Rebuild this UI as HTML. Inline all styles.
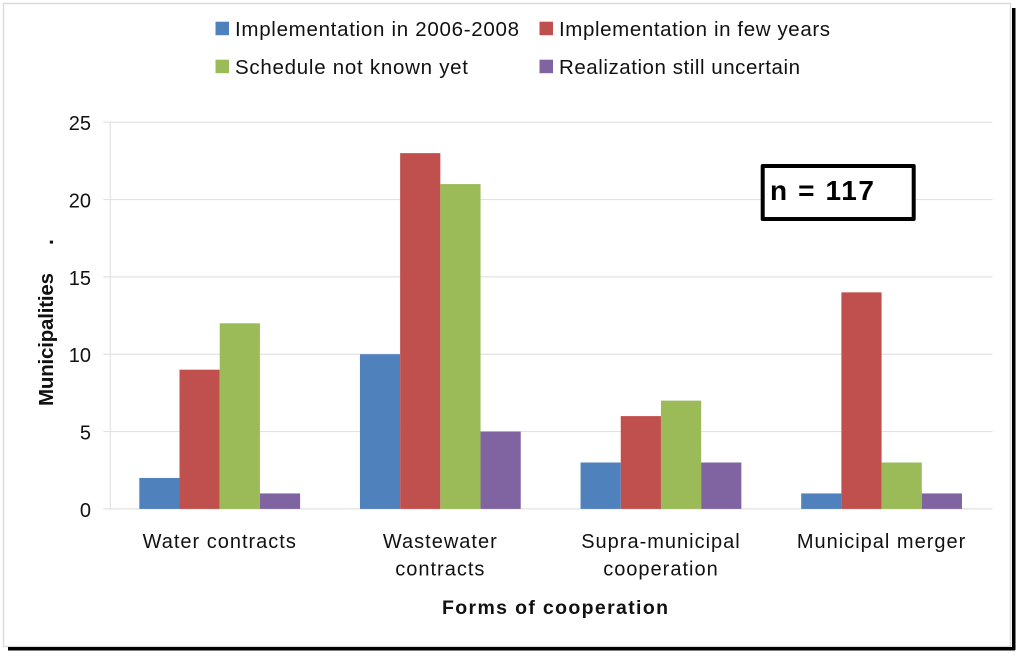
<!DOCTYPE html>
<html>
<head>
<meta charset="utf-8">
<style>
html,body{margin:0;padding:0;background:#fff;width:1024px;height:659px;overflow:hidden}
svg{display:block;font-family:"Liberation Sans",sans-serif;filter:blur(0.35px)}
text{fill:#111}
</style>
</head>
<body>
<svg id="chart" width="1024" height="659" viewBox="0 0 1024 659" xmlns="http://www.w3.org/2000/svg">
  <rect x="3.5" y="3.5" width="1007" height="643" fill="#fff" stroke="#dcdcdc" stroke-width="1.5"/>
  <rect x="1012" y="8" width="3.5" height="642" fill="#000"/>
  <rect x="8" y="647" width="1007" height="3.5" fill="#000"/>
  <g id="grid"></g>
  <g id="ticks"></g>
  <g id="bars"></g>
  <g id="cats"></g>

  <g>
    <rect x="215.5" y="21.7" width="13.5" height="13.5" fill="#4f81bd"/>
    <text x="235" y="36" font-size="20.5" textLength="284" lengthAdjust="spacing">Implementation in 2006-2008</text>
    <rect x="539.5" y="21.7" width="13.5" height="13.5" fill="#c0504d"/>
    <text x="559" y="36" font-size="20.5" textLength="271" lengthAdjust="spacing">Implementation in few years</text>
    <rect x="215.5" y="59.7" width="13.5" height="13.5" fill="#9bbb59"/>
    <text x="235" y="74" font-size="20.5" textLength="233" lengthAdjust="spacing">Schedule not known yet</text>
    <rect x="539.5" y="59.7" width="13.5" height="13.5" fill="#8064a2"/>
    <text x="559" y="74" font-size="20.5" textLength="241" lengthAdjust="spacing">Realization still uncertain</text>
  </g>

  <text transform="translate(53,406) rotate(-90)" font-size="20.5" font-weight="bold" textLength="133" lengthAdjust="spacing">Municipalities</text>
  <text transform="translate(53,245) rotate(-90)" font-size="21" font-weight="bold">.</text>
  <text x="442" y="614" font-size="19.5" font-weight="bold" textLength="226" lengthAdjust="spacing">Forms of cooperation</text>

  <g>
    <rect x="762.7" y="166" width="151" height="53" fill="#fff" stroke="#000" stroke-width="4" stroke-linejoin="round"/>
    <text x="770" y="200" font-size="28" font-weight="bold" textLength="104" lengthAdjust="spacing" style="fill:#000">n = 117</text>
  </g>
</svg>
<script>
const categories = [["Water contracts"], ["Wastewater", "contracts"], ["Supra-municipal", "cooperation"], ["Municipal merger"]];
const seriesNames = ["Implementation in 2006-2008", "Implementation in few years", "Schedule not known yet", "Realization still uncertain"];
const implementation2006 = [2, 10, 3, 1];
const implementationFewYears = [9, 23, 6, 14];
const scheduleNotKnown = [12, 21, 7, 3];
const realizationUncertain = [1, 5, 3, 1];
const tickValues = [0, 5, 10, 15, 20, 25];

const seriesValues = [implementation2006, implementationFewYears, scheduleNotKnown, realizationUncertain];
const seriesColors = ["#4f81bd", "#c0504d", "#9bbb59", "#8064a2"];
const NS = "http://www.w3.org/2000/svg";
const axisX = 110.3, gridRight = 992.5;
const plotLeft = 109.4, plotRight = 991.9, plotBottom = 508.9, plotTop = 122.2;
const yMax = tickValues[tickValues.length - 1];
const yScale = v => plotBottom - (v / yMax) * (plotBottom - plotTop);
const bandWidth = (plotRight - plotLeft) / categories.length;
const barWidth = 40.2;
const xBand = i => plotLeft + i * bandWidth;
const xBar = (i, s) => xBand(i) + (bandWidth - barWidth * seriesValues.length) / 2 + s * barWidth;

const gridG = document.getElementById("grid");
const ticksG = document.getElementById("ticks");
tickValues.forEach(t => {
  const line = document.createElementNS(NS, "line");
  
  
  line.setAttribute("x1", axisX - 7);
  line.setAttribute("x2", gridRight);
  line.setAttribute("y1", yScale(t));
  line.setAttribute("y2", yScale(t));
  line.setAttribute("stroke", "#e2e2e2");
  line.setAttribute("stroke-width", "1.2");
  gridG.appendChild(line);
  const label = document.createElementNS(NS, "text");
  
  
  label.setAttribute("x", 91);
  label.setAttribute("y", yScale(t) + 8);
  label.setAttribute("text-anchor", "end");
  label.setAttribute("font-size", "20");
  label.textContent = t;
  ticksG.appendChild(label);
});
const axisLine = document.createElementNS(NS, "line");


axisLine.setAttribute("x1", axisX);
axisLine.setAttribute("x2", axisX);
axisLine.setAttribute("y1", plotTop);
axisLine.setAttribute("y2", plotBottom);
axisLine.setAttribute("stroke", "#e2e2e2");
axisLine.setAttribute("stroke-width", "1.2");
gridG.appendChild(axisLine);

const barsG = document.getElementById("bars");
seriesValues.forEach((values, s) => {
  values.forEach((v, i) => {
    const bar = document.createElementNS(NS, "rect");
    
    
    bar.setAttribute("x", xBar(i, s));
    bar.setAttribute("y", yScale(v));
    bar.setAttribute("width", barWidth);
    bar.setAttribute("height", plotBottom - yScale(v));
    bar.setAttribute("fill", seriesColors[s]);
    const tip = document.createElementNS(NS, "title");
    tip.textContent = seriesNames[s] + ": " + v;
    bar.appendChild(tip);
    barsG.appendChild(bar);
  });
});

const catsG = document.getElementById("cats");
categories.forEach((lines, i) => {
  lines.forEach((txt, l) => {
    const label = document.createElementNS(NS, "text");
    
    
    label.setAttribute("x", xBand(i) + bandWidth / 2);
    label.setAttribute("y", 548 + l * 27.5);
    label.setAttribute("text-anchor", "middle");
    label.setAttribute("font-size", "20");
    label.setAttribute("letter-spacing", "1");
    label.textContent = txt;
    catsG.appendChild(label);
  });
});
</script>
</body>
</html>
